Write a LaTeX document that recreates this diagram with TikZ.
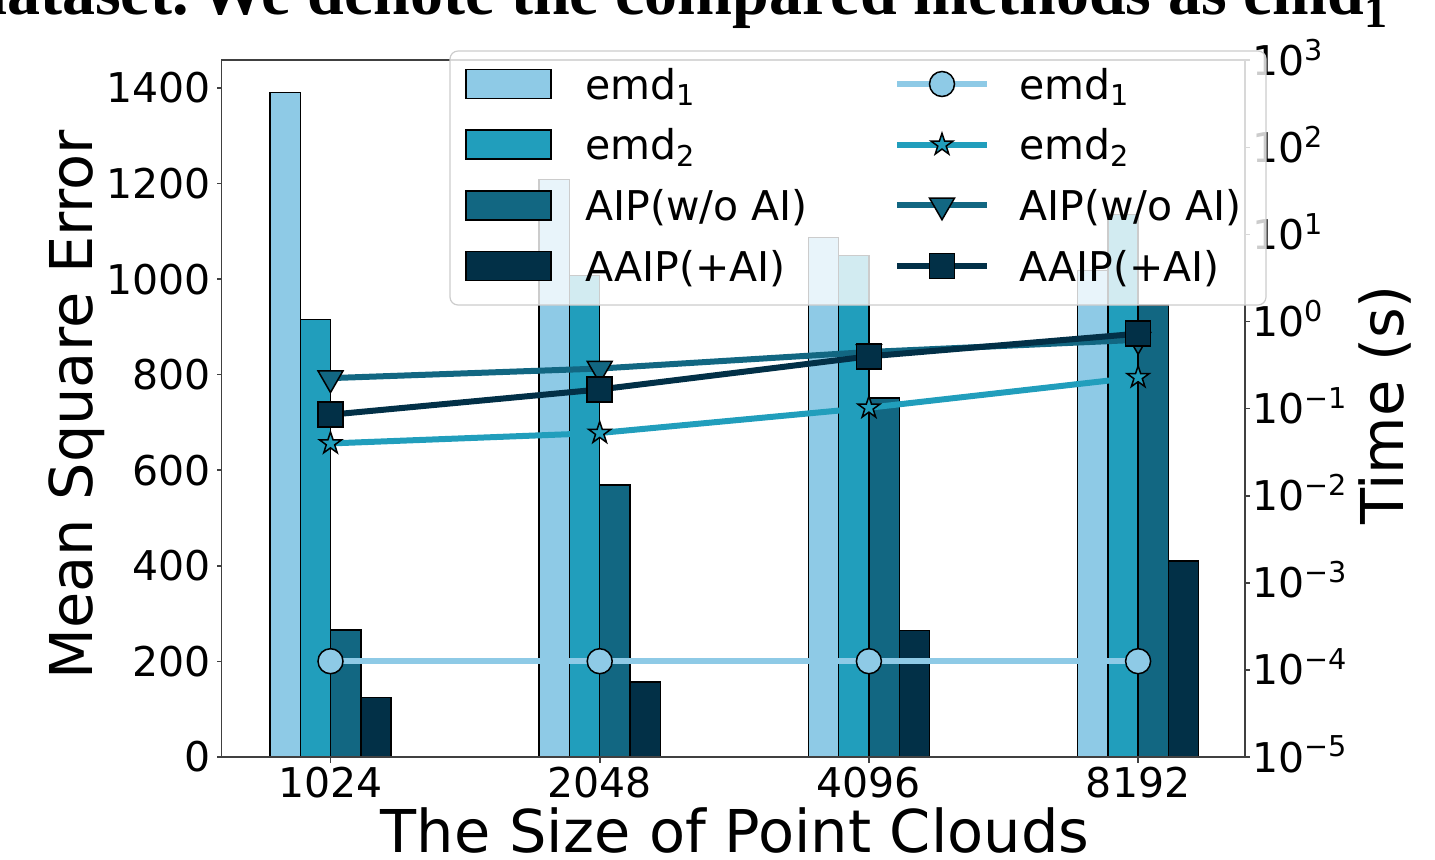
\documentclass[tikz,border=0pt]{standalone}
\usepackage{fontspec}
\setmainfont{DejaVu Sans}
\newfontfamily\paperfont{Liberation Serif}
\usetikzlibrary{shapes.geometric}

\definecolor{emdone}{HTML}{8ECAE6}
\definecolor{emdtwo}{HTML}{219EBC}
\definecolor{aip}{HTML}{126782}
\definecolor{aaip}{HTML}{023047}

\begin{document}
\begin{tikzpicture}[
  x=0.5pt,
  y=-0.5pt,
  font=\fontsize{20.5}{24}\selectfont,
  bar/.style={draw=black, line width=0.7pt},
  spine/.style={draw=black!75, line width=0.8pt},
  tickmark/.style={draw=black!75, line width=0.8pt},
  ticklab/.style={inner sep=0pt, font=\fontsize{20.5}{24}\selectfont},
  axlab/.style={inner sep=0pt, font=\fontsize{29.5}{34}\selectfont},
  series/.style={line width=3pt},
  mk/.style={draw=black, line width=0.75pt, inner sep=0pt},
  mkcirc/.style={mk, circle, minimum size=12.5pt},
  mkstar/.style={mk, star, star points=5, star point ratio=2.6, minimum size=11.5pt},
  mktri/.style={mk, regular polygon, regular polygon sides=3, shape border rotate=180, minimum size=14.4pt},
  mksq/.style={mk, rectangle, minimum size=12.5pt},
  legbox/.style={draw=black!20, fill=white, fill opacity=0.8, rounded corners=4pt, line width=0.6pt},
  legpatch/.style={draw=black, line width=0.7pt, minimum width=42.5pt, minimum height=14.5pt, inner sep=0pt},
  legtext/.style={anchor=base west, inner sep=0pt}
]
\useasboundingbox (0,0) rectangle (1435,859);

% line of the page above the figure, cut by the crop
\begin{scope}
  \clip (0,0) rectangle (1435,859);
  \node[anchor=base west, inner sep=0pt, font=\paperfont\bfseries\fontsize{33}{38}\selectfont] (cap) at (-30,14)
    {dataset.\,We denote the compared methods as emd\textsubscript{1}};
\end{scope}

% bars (left axis)
\foreach \g/\va/\vb/\vc/\vd [count=\i from 0] in {1024/1391/915/266/125, 2048/1209/1007/569/157, 4096/1087/1050/751/265, 8192/1018/1135/946/410} {
  \pgfmathsetmacro\cx{330.5+269.2*\i}
  \foreach \v/\col [count=\j from 0] in {\va/emdone, \vb/emdtwo, \vc/aip, \vd/aaip}
    \draw[bar, fill=\col] ({\cx-60.6+30.3*\j},757) rectangle ++(30.3,{-0.4779*\v});
  \draw[tickmark] (\cx,757) -- ++(0,6);
  \node[ticklab, anchor=north] (xt\g) at (\cx,767) {\g};
}

% time curves (right axis, log)
\foreach \lg [count=\i from 0] in {-3.9,-3.9,-3.9,-3.9}
  \coordinate (ta\i) at ({330.5+269.2*\i},{757-87.1*(\lg+5)});
\foreach \lg [count=\i from 0] in {-1.40,-1.28,-0.99,-0.64}
  \coordinate (tb\i) at ({330.5+269.2*\i},{757-87.1*(\lg+5)});
\foreach \lg [count=\i from 0] in {-0.65,-0.54,-0.35,-0.21}
  \coordinate (tc\i) at ({330.5+269.2*\i},{757-87.1*(\lg+5)});
\foreach \lg [count=\i from 0] in {-1.07,-0.78,-0.40,-0.14}
  \coordinate (td\i) at ({330.5+269.2*\i},{757-87.1*(\lg+5)});

\draw[series, emdone] (ta0) -- (ta1) -- (ta2) -- (ta3);
\foreach \i in {0,...,3} \node[mkcirc, fill=emdone] (ma\i) at (ta\i) {};
\draw[series, emdtwo] (tb0) -- (tb1) -- (tb2) -- (tb3);
\foreach \i in {0,...,3} \node[mkstar, fill=emdtwo] (mb\i) at (tb\i) {};
\draw[series, aip] (tc0) -- (tc1) -- (tc2) -- (tc3);
\foreach \i in {0,...,3} \node[mktri, fill=aip] (mc\i) at (tc\i) {};
\draw[series, aaip] (td0) -- (td1) -- (td2) -- (td3);
\foreach \i in {0,...,3} \node[mksq, fill=aaip] (md\i) at (td\i) {};

% axes
\draw[spine] (221.5,60) rectangle (1245,757);
\foreach \v in {0,200,...,1400} {
  \draw[tickmark] (221.5,{757-0.4779*\v}) -- ++(-5,0);
  \node[ticklab, anchor=east] (yl\v) at (211,{757-0.4779*\v}) {\v};
}
\foreach \e/\lab in {-5/−5, -4/−4, -3/−3, -2/−2, -1/−1, 0/0, 1/1, 2/2, 3/3} {
  \draw[tickmark] (1245,{757-87.1*(\e+5)}) -- ++(5,0);
  \node[ticklab, anchor=base west] (yr\e) at (1252,{757-87.1*(\e+5)+15}) {10\textsuperscript{\lab}};
}
\node[axlab, rotate=90, anchor=base] (ylab) at (92,405) {Mean Square Error};
\node[axlab, rotate=90, anchor=base] (tlab) at (1403,405) {Time (s)};
\node[axlab, anchor=base] (xlab) at (735,852) {The Size of Point Clouds};

% legend
\draw[legbox] (450,51) rectangle (1266,305);
\foreach \lab/\col/\mk [count=\k from 0] in {{emd\textsubscript{1}}/emdone/mkcirc, {emd\textsubscript{2}}/emdtwo/mkstar, {AIP(w/o AI)}/aip/mktri, {AAIP(+AI)}/aaip/mksq} {
  \pgfmathsetmacro\ry{84+60.67*\k}
  \node[legpatch, fill=\col] (lp\k) at (508.5,\ry) {};
  \node[legtext] (lt\k) at (585,{\ry+15}) {\lab};
  \coordinate (ls\k) at (897,\ry);
  \coordinate (le\k) at (987,\ry);
  \draw[series, \col] (ls\k) -- (le\k);
  \node[\mk, fill=\col] (lm\k) at (942,\ry) {};
  \node[legtext] (lu\k) at (1019,{\ry+15}) {\lab};
}

\end{tikzpicture}
\end{document}
